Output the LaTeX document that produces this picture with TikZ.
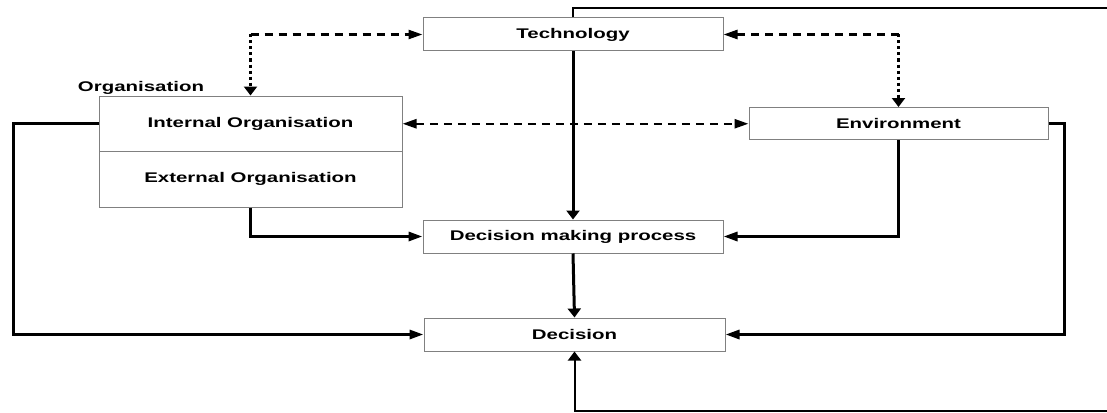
\documentclass[tikz,border=0pt]{standalone}
\usepackage{graphicx}
\usepackage{fontspec}
\setmainfont{Liberation Sans}
\usetikzlibrary{arrows.meta}
\newcommand{\lbl}[1]{\scalebox{1.46}[1]{\bfseries #1}}
\tikzset{
  box/.style={draw=gray, line width=1pt, fill=white, inner sep=0pt, font=\fontsize{14}{16}\selectfont},
  conn/.style={line width=3pt, black},
  harr/.style={-{Triangle[length=14pt,width=9pt]}},
  varr/.style={-{Triangle[length=9pt,width=13pt]}},
  hdash/.style={line width=2.5pt, dash pattern=on 8pt off 6pt},
  vdot/.style={line width=3pt, dash pattern=on 3pt off 3pt}
}
\begin{document}
\begin{tikzpicture}[x=1pt,y=-1pt]
\useasboundingbox (0,0) rectangle (1107,412);
% nodes
\node[box, minimum width=300pt, minimum height=33pt] (tech) at (573,34.5) {\lbl{Technology}};
\node[box, minimum width=303pt, minimum height=55.5pt] (orgint) at (250.5,123.75) {\lbl{Internal Organisation}};
\node[box, minimum width=303pt, minimum height=55.5pt] (orgext) at (250.5,179.25) {\lbl{External Organisation}};
\node[font=\fontsize{14}{16}\selectfont, inner sep=0pt] (orglbl) at (141,88) {\lbl{Organisation}};
\node[box, minimum width=299pt, minimum height=32pt] (env) at (898.5,123.5) {\lbl{Environment}};
\node[box, minimum width=300pt, minimum height=33pt] (dmp) at (573,236.5) {\lbl{Decision making process}};
\node[box, minimum width=301pt, minimum height=33pt] (dec) at (574.5,334.5) {\lbl{Decision}};
% coordinates
\coordinate (c1) at (250.5,34.5);
\coordinate (c2) at (898.5,34.5);
\coordinate (lft) at (13,0);
\coordinate (rgt) at (1064,0);
\coordinate (tr) at (1107,8);
\coordinate (br) at (1107,410.5);
% dashed / dotted
\draw[hdash, harr] (c1) -- (tech.west);
\draw[vdot, varr] (c1) -- (orgint.north);
\draw[hdash, harr] (c2) -- (tech.east);
\draw[vdot, varr] (c2) -- (env.north);
\draw[hdash, {Triangle[length=14pt,width=9pt]}-{Triangle[length=14pt,width=9pt]}] (orgint.east) -- (orgint.east -| env.west);
% solid
\draw[conn, varr] (tech.south) -- (dmp.north);
\draw[conn, harr] (orgext.south) |- (dmp.west);
\draw[conn, harr] (env.south) |- (dmp.east);
\draw[conn, varr] (dmp.south) -- (dec.north);
\draw[conn, harr] (orgint.west) -- (orgint.west -| lft) |- (dec.west);
\draw[conn, harr] (env.east) -- (env.east -| rgt) |- (dec.east);
\draw[conn, line width=2.5pt] (tech.north) |- (tr);
\draw[conn, line width=2pt, varr] (br) -| (dec.south);
\end{tikzpicture}
\end{document}
